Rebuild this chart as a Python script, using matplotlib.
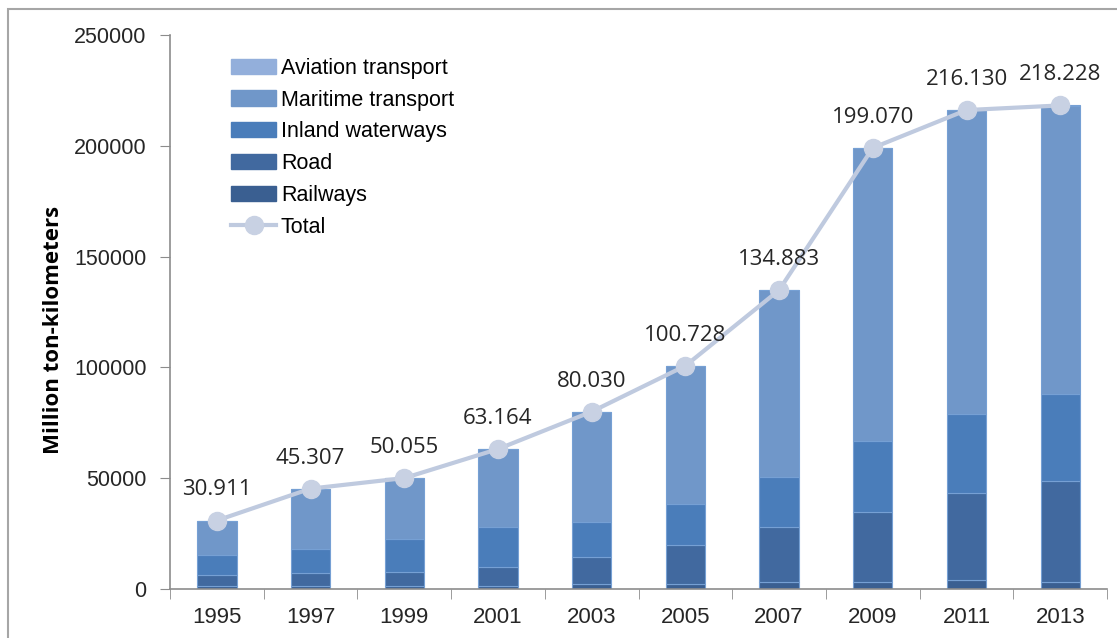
import numpy as np
import matplotlib.pyplot as plt
from matplotlib.patches import Patch, Rectangle
from matplotlib.lines import Line2D

years = ["1995", "1997", "1999", "2001", "2003", "2005", "2007", "2009", "2011", "2013"]

# million ton-kilometers by mode
railways = [1400, 1400, 1200, 1500, 2300, 2300, 3300, 3300, 3900, 3300]
road = [4800, 6000, 6600, 8600, 12300, 17700, 24800, 31500, 39400, 45600]
inland = [9100, 10600, 14800, 17700, 15800, 18200, 22600, 31900, 35500, 39100]
maritime = [15511, 27197, 27335, 35234, 49510, 62418, 84083, 132280, 137240, 130138]
aviation = [100, 110, 120, 130, 120, 110, 100, 90, 90, 90]
total = [30911, 45307, 50055, 63164, 80030, 100728, 134883, 199070, 216130, 218228]
total_labels = ["30.911", "45.307", "50.055", "63.164", "80.030",
                "100.728", "134.883", "199.070", "216.130", "218.228"]

layers = [
    ("Railways", railways, "#3a5f91"),
    ("Road", road, "#41699f"),
    ("Inland waterways", inland, "#4a7dba"),
    ("Maritime transport", maritime, "#7097c9"),
    ("Aviation transport", aviation, "#93afdb"),
]

plt.rcParams["font.family"] = ["Liberation Sans", "DejaVu Sans"]

fig = plt.figure(figsize=(11.17, 6.38), dpi=100)
ax = fig.add_axes([0.1522, 0.0768, 0.8389, 0.8683])

x = np.arange(len(years))
bottom = np.zeros(len(years))
for name, vals, col in layers:
    ax.bar(x, vals, width=0.42, bottom=bottom, color=col,
           edgecolor="#76a0d4", linewidth=0.8, zorder=2)
    bottom += np.array(vals)

line_col = "#bfcadf"
ax.plot(x, total, color=line_col, lw=3, marker="o", ms=13,
        mfc="#c8d1e3", mec="#c8d1e3", zorder=3)
for xi, v, lab in zip(x, total, total_labels):
    ax.annotate(lab, (xi, v), xytext=(0, 22), textcoords="offset points",
                ha="center", va="center", fontsize=16, color="#262626",
                family=["Open Sans", "DejaVu Sans"])

ax.set_xlim(-0.5, 9.5)
ax.set_ylim(0, 250000)
ax.set_yticks(np.arange(0, 250001, 50000))
ax.set_yticklabels([str(v) for v in range(0, 250001, 50000)])
ax.set_xticks(x)
ax.set_xticklabels(years)
ax.set_xticks(np.arange(-0.5, 10, 1), minor=True)
ax.tick_params(axis="x", which="major", length=0, pad=13, labelsize=16, colors="#262626")
ax.tick_params(axis="x", which="minor", length=7, color="#8c8c8c")
ax.tick_params(axis="y", length=7, color="#8c8c8c", pad=10, labelsize=15.5, labelcolor="#262626")
for s in ("top", "right"):
    ax.spines[s].set_visible(False)
for s in ("left", "bottom"):
    ax.spines[s].set_color("#8c8c8c")
    ax.spines[s].set_linewidth(1.2)

ax.set_ylabel("Million ton-kilometers", fontsize=16, fontweight="bold",
              family=["Open Sans", "DejaVu Sans"])
ax.yaxis.set_label_coords(-0.113, 0.467)

handles = [Patch(facecolor=col, edgecolor=col) for _, _, col in layers[::-1]]
handles.append(Line2D([], [], color=line_col, lw=3, marker="o", ms=13,
                      mfc="#c8d1e3", mec="#c8d1e3"))
labels = [name for name, _, _ in layers[::-1]] + ["Total"]
ax.legend(handles, labels, loc="upper left", bbox_to_anchor=(0.047, 0.99),
          frameon=False, fontsize=15.5, handlelength=2.1, handleheight=0.7,
          handletextpad=0.2, labelspacing=0.5, borderpad=0.3)

fig.patches.append(Rectangle((8 / 1117, -0.1), 1.2, 1 - 9 / 638 + 0.1,
                             transform=fig.transFigure, fill=False,
                             edgecolor="#a6a6a6", lw=1.5))

fig.savefig("out.png", dpi=100)
